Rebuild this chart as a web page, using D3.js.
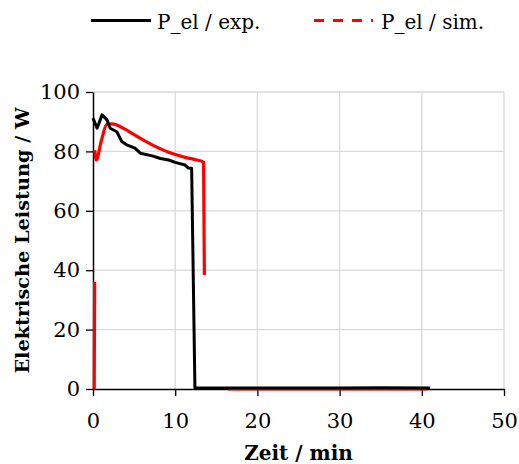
<!DOCTYPE html>
<html>
<head>
<script src="https://d3js.org/d3.v7.min.js"></script>
<style>
  body { margin: 0; background: #fff; }
  text { font-family: "DejaVu Serif", "Liberation Serif", serif; }
</style>
</head>
<body>
<div id="chart"></div>
<script>
// x in min, y in W (null = gap)
const expTime = [0, 0.5, 1.1, 1.7, 2.1, 2.9, 3.5, 4.1, 5.1, 5.75, 7.2, 8.2, 9.2, 10.0, 11.2, 11.6, 12.0, 12.4, 13.0, 20, 30, 35, 41];
const expPower = [91.2, 87.8, 92.3, 90.6, 87.8, 86.6, 83.3, 82.2, 81.1, 79.4, 78.5, 77.6, 77.1, 76.3, 75.4, 74.4, 74.3, 0.3, 0.3, 0.3, 0.3, 0.4, 0.3];
const simTime = [0.15, 0.2, null, 0.22, 0.4, 1.0, 1.7, 2.3, 2.9, 4.0, 5.1, 6.2, 7.2, 8.2, 9.2, 10.2, 11.2, 12.3, 13.45, 13.55, null, 16.4, 40.7];
const simPower = [0, 36, null, 80.4, 77.1, 83.5, 89.2, 89.3, 88.9, 87.3, 85.5, 83.7, 82.2, 80.9, 79.7, 78.8, 78.0, 77.3, 76.4, 38.4, null, 0, 0];
const xTicks = [0, 10, 20, 30, 40, 50];
const yTicks = [0, 20, 40, 60, 80, 100];
const seriesNames = ["P_el / exp.", "P_el / sim."];

const width = 519, height = 464;
const margin = {top: 92, right: 15, bottom: 75, left: 93};

const x = d3.scaleLinear([0, 50], [margin.left, width - margin.right]);
const y = d3.scaleLinear([0, 100], [height - margin.bottom, margin.top]);

const svg = d3.select("#chart").append("svg")
    .attr("width", width).attr("height", height);

// grid
svg.append("g").selectAll("line").data(xTicks.slice(1)).join("line")
    .attr("x1", d => x(d)).attr("x2", d => x(d))
    .attr("y1", y(0)).attr("y2", y(100))
    .attr("stroke", "#d9d9d9").attr("stroke-width", 1.3);
svg.append("g").selectAll("line").data(yTicks.slice(1)).join("line")
    .attr("x1", x(0)).attr("x2", x(50))
    .attr("y1", d => y(d)).attr("y2", d => y(d))
    .attr("stroke", "#d9d9d9").attr("stroke-width", 1.3);

// axes
const xAxis = svg.append("g")
    .attr("transform", `translate(0,${y(0)})`)
    .call(d3.axisBottom(x).tickValues(xTicks).tickSize(7).tickSizeOuter(0).tickPadding(17));
const yAxis = svg.append("g")
    .attr("transform", `translate(${x(0)},0)`)
    .call(d3.axisLeft(y).tickValues(yTicks).tickSize(7).tickSizeOuter(0).tickPadding(6));
[xAxis, yAxis].forEach(a => {
  a.select(".domain").attr("stroke", "#000").attr("stroke-width", 1.5);
  a.selectAll(".tick line").attr("stroke", "#000").attr("stroke-width", 1.3);
  a.selectAll(".tick text").attr("font-size", 21).attr("fill", "#000")
    .attr("font-family", "DejaVu Serif");
});

// lines
const simLine = d3.line()
    .defined(d => d[1] !== null)
    .curve(d3.curveMonotoneX)
    .x(d => x(d[0])).y(d => y(d[1]));
const expLine = d3.line()
    .defined(d => d[1] !== null)
    .x(d => x(d[0])).y(d => y(d[1]));

svg.append("path")
    .datum(simTime.map((t, i) => [t, simPower[i]]))
    .attr("fill", "none").attr("stroke", "#ff0000").attr("stroke-width", 3.2)
    .attr("stroke-linejoin", "round")
    .attr("d", simLine);

svg.append("path")
    .datum(expTime.map((t, i) => [t, expPower[i]]))
    .attr("fill", "none").attr("stroke", "#000").attr("stroke-width", 3)
    .attr("stroke-linejoin", "round")
    .attr("d", expLine);

// axis titles
svg.append("text")
    .attr("x", (x(0) + x(50)) / 2).attr("y", 460)
    .attr("text-anchor", "middle").attr("font-weight", "bold").attr("font-size", 20)
    .text("Zeit / min");
svg.append("text")
    .attr("transform", `translate(29,${(y(0) + y(100)) / 2}) rotate(-90)`)
    .attr("text-anchor", "middle").attr("font-weight", "bold").attr("font-size", 19.3)
    .text("Elektrische Leistung / W");

// legend
const legend = svg.append("g");
legend.append("line").attr("x1", 91).attr("x2", 151).attr("y1", 20.5).attr("y2", 20.5)
    .attr("stroke", "#000").attr("stroke-width", 3);
legend.append("text").attr("x", 157).attr("y", 29).attr("font-size", 20).text(seriesNames[0]);
legend.append("line").attr("x1", 314).attr("x2", 373).attr("y1", 20.5).attr("y2", 20.5)
    .attr("stroke", "#ff0000").attr("stroke-width", 3).attr("stroke-dasharray", "10,9");
legend.append("text").attr("x", 381).attr("y", 29).attr("font-size", 20).text(seriesNames[1]);
</script>
</body>
</html>
